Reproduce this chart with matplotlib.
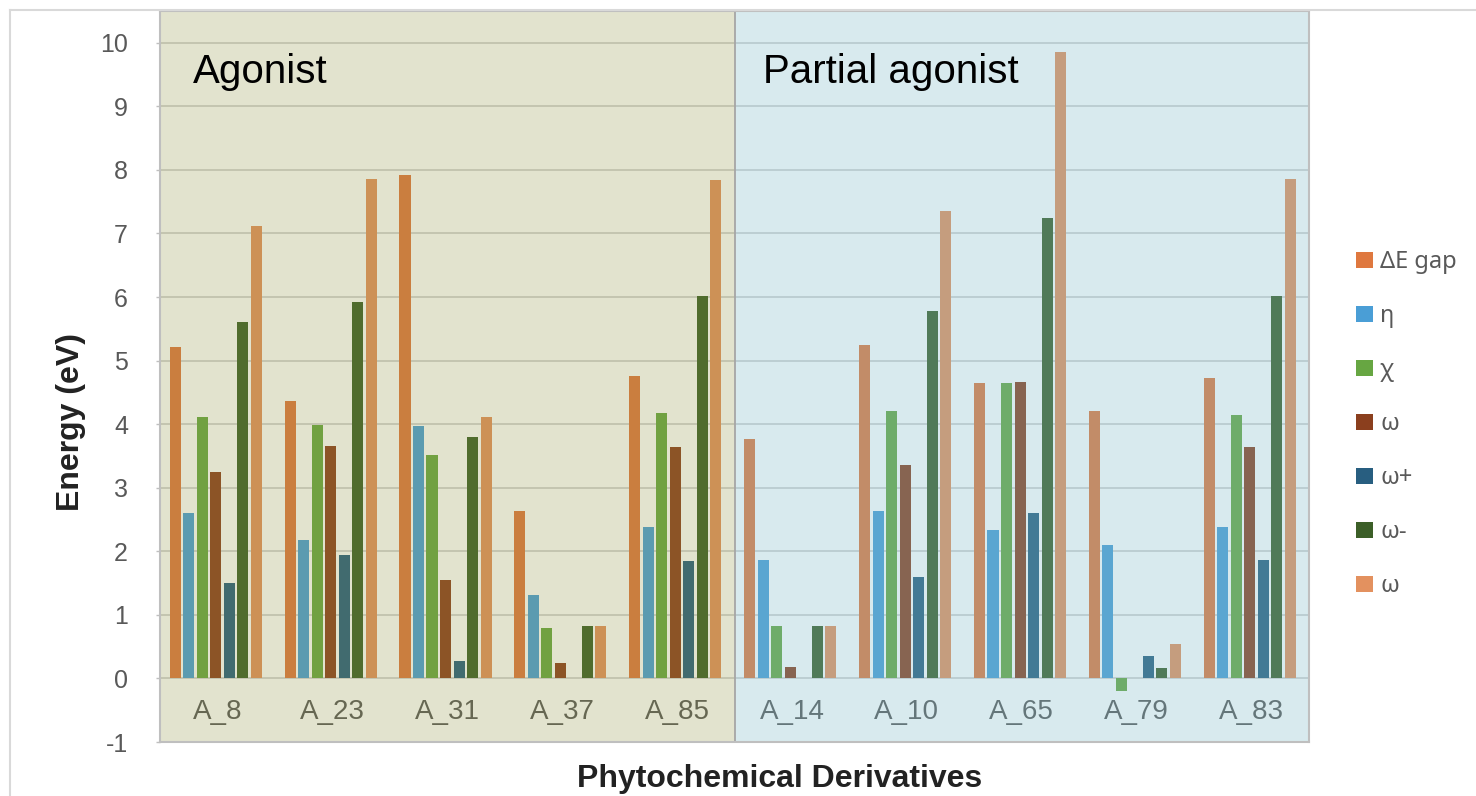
import matplotlib
matplotlib.use("Agg")
import matplotlib.pyplot as plt
from matplotlib.lines import Line2D
import numpy as np

# ---- data -------------------------------------------------------------
categories = ["A_8", "A_23", "A_31", "A_37", "A_85",
              "A_14", "A_10", "A_65", "A_79", "A_83"]
series_names = ["ΔE gap", "η", "χ", "ω", "ω+", "ω-", "ω"]

delta_e_gap = [5.22, 4.36, 7.92, 2.64, 4.76, 3.77, 5.24, 4.64, 4.21, 4.73]
eta         = [2.60, 2.18, 3.97, 1.32, 2.38, 1.87, 2.64, 2.33, 2.10, 2.38]
chi         = [4.11, 3.99, 3.52, 0.80, 4.17, 0.83, 4.21, 4.64, -0.20, 4.15]
omega       = [3.24, 3.66, 1.55, 0.24, 3.64, 0.18, 3.36, 4.66, 0.00, 3.64]
omega_plus  = [1.50, 1.94, 0.28, 0.00, 1.85, 0.00, 1.59, 2.61, 0.36, 1.87]
omega_minus = [5.60, 5.92, 3.80, 0.82, 6.01, 0.83, 5.78, 7.25, 0.17, 6.01]
omega_e     = [7.11, 7.85, 4.12, 0.82, 7.84, 0.83, 7.35, 9.85, 0.54, 7.86]

region_names = ["Agonist", "Partial agonist"]
region_sizes = [5, 5]

# ---- styling ----------------------------------------------------------
series_values = [delta_e_gap, eta, chi, omega, omega_plus, omega_minus, omega_e]
series_colors = ["#DF783F", "#4A9ED6", "#67A642", "#8B3F1E",
                 "#285E80", "#3C5F28", "#E3915F"]
region_colors = ["#8F933F", "#80BBC8"]
region_alphas = [0.25, 0.30]
title_offsets = [0.29, 0.245]

SANS = ["Liberation Sans", "DejaVu Sans"]
GRAY = "#595959"

fig = plt.figure(figsize=(14.76, 7.96), dpi=100)
W, H = 1476, 796
ax = fig.add_axes([160 / W, 1 - 742 / H, (1309 - 160) / W, (742 - 11) / H])

x = np.arange(len(categories))
step = 0.1176
width = 0.096
handles = []
for i, (vals, col, name) in enumerate(zip(series_values, series_colors, series_names)):
    bars = ax.bar(x + (i - 3) * step - 0.015, vals, width=width, color=col,
                  linewidth=0, zorder=2, label=name)
    handles.append(bars)

# category labels sit inside the plot, below the zero line
for xi, cat in zip(x, categories):
    ax.text(xi, -0.53, cat, ha="center", va="center", fontsize=20,
            color=GRAY, family=SANS, zorder=2.5)

# translucent region panels laid over the bars
start = -0.5
for name, size, col, a, off in zip(region_names, region_sizes, region_colors,
                                   region_alphas, title_offsets):
    ax.axvspan(start, start + size, color=col, alpha=a, lw=0, zorder=3)
    ax.text(start + off, 9.37, name, fontsize=29, color="black",
            family=SANS, va="baseline", ha="left", zorder=5)
    start += size
ax.axvline(4.5, color="#A6A6A6", lw=1.3, zorder=4)

ax.set_xlim(-0.5, len(categories) - 0.5)
ax.set_ylim(-1, 10.5)
ax.set_xticks([])
ax.set_yticks(range(-1, 11))
ax.set_yticklabels([str(v) for v in range(-1, 11)], fontsize=18,
                   color=GRAY, family=SANS)
ax.tick_params(axis="y", length=3, width=1, color="#BFBFBF", pad=20)
ax.set_axisbelow(True)
ax.grid(axis="y", color="#D6D6D6", lw=1.4, zorder=0.5)
for sp in ax.spines.values():
    sp.set_color("#BFBFBF")
    sp.set_linewidth(1.5)
    sp.set_zorder(4)

fig.text(780 / W, 1 - 779 / H, "Phytochemical Derivatives", ha="center",
         va="center", fontsize=23, fontweight="bold", color="#222222",
         family=SANS)
fig.text(71 / W, 1 - 422 / H, "Energy (eV)", ha="center", va="center",
         rotation=90, fontsize=23, fontweight="bold", color="#222222",
         family=SANS)

fig.legend(handles=handles, labels=series_names, loc="upper left",
           bbox_to_anchor=(1347 / W, 1 - 241 / H), frameon=False,
           prop={"family": ["Noto Sans", "DejaVu Sans"], "size": 17},
           labelcolor=GRAY, handlelength=0.7, handleheight=0.7,
           handletextpad=0.3, labelspacing=1.27, borderaxespad=0)

# light outer chart frame
fig.add_artist(Line2D([10 / W, 10 / W], [0, 1 - 10 / H], color="#D9D9D9",
                      lw=1.5, transform=fig.transFigure))
fig.add_artist(Line2D([10 / W, 1], [1 - 10 / H, 1 - 10 / H], color="#D9D9D9",
                      lw=1.5, transform=fig.transFigure))

fig.savefig("out.png", dpi=100, facecolor="white")
